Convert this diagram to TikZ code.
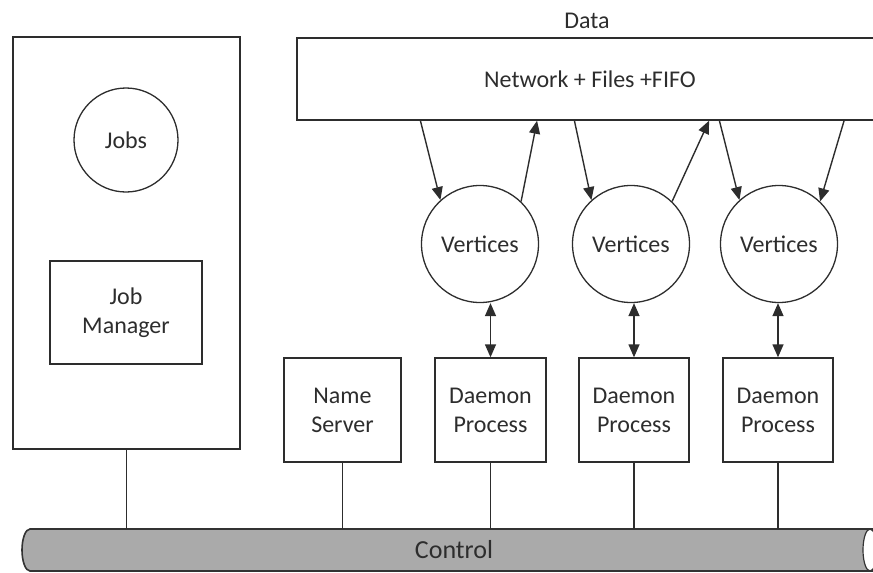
\documentclass[tikz,border=0pt]{standalone}
\usepackage{fontspec}
\setmainfont{Carlito}
\usetikzlibrary{arrows.meta, positioning}
\definecolor{linegray}{RGB}{45,45,45}
\definecolor{busgray}{RGB}{170,170,170}

\begin{document}
\begin{tikzpicture}[
    x=1pt, y=-1pt,
    font=\fontsize{24}{29}\selectfont,
    every node/.style={text=linegray},
    pbox/.style={rectangle, draw=linegray, line width=1.4pt, align=center, inner sep=0pt},
    vcirc/.style={circle, draw=linegray, line width=1.3pt, inner sep=0pt},
    arr/.style={-{Triangle[length=13pt, width=11pt]}, line width=1.4pt, color=linegray},
    darr/.style={{Triangle[length=13pt, width=11pt]}-{Triangle[length=13pt, width=11pt]}, line width=1.4pt, color=linegray},
    link/.style={line width=1.4pt, color=linegray}
]
\useasboundingbox (0,0) rectangle (873,573);
\clip (0,0) rectangle (873,573);

% left part
\node[pbox, minimum width=227, minimum height=412] (client) at (126.5,243) {};
\node[vcirc, minimum size=104] (jobs) at (126,140) {Jobs};
\node[pbox, minimum width=152, minimum height=103] (jobmgr) at (126,312.5) {Job\\Manager};

% data plane
\node (data) at (587,20.5) {Data};
\node[pbox, minimum width=586, minimum height=82] (net) at (590,79) {Network + Files +FIFO};

\node[vcirc, minimum size=117] (v1) at (480,244) {Vertices};
\node[vcirc, minimum size=117] (v2) at (631,244) {Vertices};
\node[vcirc, minimum size=117] (v3) at (779,244) {Vertices};

\node[pbox, minimum width=117, minimum height=104] (names) at (342.5,410) {Name\\Server};
\node[pbox, minimum width=111, minimum height=104] (d1) at (490.5,410) {Daemon\\Process};
\node[pbox, minimum width=110, minimum height=104] (d2) at (634,410) {Daemon\\Process};
\node[pbox, minimum width=110, minimum height=104] (d3) at (778,410) {Daemon\\Process};

% control bus
\fill[busgray] (880,529) -- (30,529) arc[start angle=270, end angle=90, x radius=8, y radius=21] -- (880,571) -- cycle;
\draw[line width=1.6pt, color=black!80] (880,529) -- (30,529) arc[start angle=270, end angle=90, x radius=8, y radius=21] -- (880,571);
\draw[line width=1.2pt, color=black!80, fill=white] (870,550) ellipse[x radius=7, y radius=21];
\node (bus) at (454,550) {\fontsize{26}{30}\selectfont Control};
\coordinate (bustop) at (0,529);

% data arrows
\draw[arr] ([xshift=-20pt]v1.132 |- net.south) -- (v1.132);
\draw[arr] (v1.46) -- ([xshift=16pt]v1.46 |- net.south);
\draw[arr] ([xshift=-17pt]v2.132 |- net.south) -- (v2.132);
\draw[arr] (v2.46) -- ([xshift=37pt]v2.46 |- net.south);
\draw[arr] ([xshift=-20pt]v3.132 |- net.south) -- (v3.132);
\draw[arr] ([xshift=24pt]v3.46 |- net.south) -- (v3.46);

\draw[darr] (d1.north) -- (d1.north |- v1.south);
\draw[darr] (d2.north) -- (d2.north |- v2.south);
\draw[darr] (d3.north) -- (d3.north |- v3.south);

% links to control
\draw[link] (client.south) -- (client.south |- bustop);
\draw[link] (names.south) -- (names.south |- bustop);
\draw[link] (d1.south) -- (d1.south |- bustop);
\draw[link] (d2.south) -- (d2.south |- bustop);
\draw[link] (d3.south) -- (d3.south |- bustop);

\end{tikzpicture}
\end{document}
